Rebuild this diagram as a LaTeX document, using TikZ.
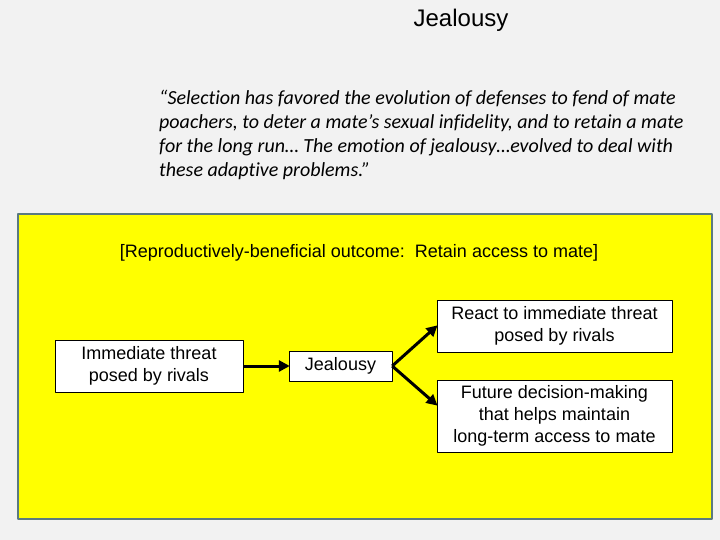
\documentclass[tikz,border=0pt]{standalone}
\usepackage{fontspec}
\setmainfont{Liberation Sans}
\newfontfamily\quotefont[Ligatures=NoCommon]{Carlito}
\usetikzlibrary{arrows.meta}
\definecolor{slide}{HTML}{F2F2F2}
\definecolor{frame}{HTML}{5B7A80}
\definecolor{note}{HTML}{FFFF00}
\begin{document}
\begin{tikzpicture}[x=1pt, y=-1pt, >={Triangle[length=11pt,width=11pt]}, line join=round,
    box/.style={draw, fill=white, align=center, inner sep=0pt, font=\fontsize{18}{22}\selectfont},
    link/.style={->, line width=3pt, shorten >=-1pt}]
    \fill[slide] (0,0) rectangle (720,540);
    \draw[frame, fill=note, line width=2pt] (18,214) rectangle (712,519);
    \node[font=\fontsize{24}{28}\selectfont] (title) at (461,20) {Jealousy};
    \node[anchor=north west, align=left, inner sep=0pt, font=\quotefont\itshape\fontsize{20}{24}\selectfont] (quote) at (159,90)
        {“Selection has favored the evolution of defenses to fend of mate\\
        poachers, to deter a mate’s sexual infidelity, and to retain a mate\\
        for the long run… The emotion of jealousy…evolved to deal with\\
        these adaptive problems.”};
    \node[font=\fontsize{18}{22}\selectfont] (outcome) at (359,253) {[Reproductively-beneficial outcome:\ \ Retain access to mate]};
    \node[box, minimum width=188pt, minimum height=52pt] (threat) at (149,366) {Immediate threat\\posed by rivals};
    \node[box, minimum width=103pt, minimum height=30pt] (jeal) at (340.5,366) {Jealousy};
    \node[box, minimum width=235pt, minimum height=52pt] (react) at (554.5,326) {React to immediate threat\\posed by rivals};
    \node[box, minimum width=235pt, minimum height=72pt] (future) at (554.5,416) {Future decision-making\\that helps maintain\\long-term access to mate};
    \draw[link] (threat) -- (jeal);
    \draw[link] (jeal.east) -- (react.west);
    \draw[link] (jeal.east) -- ([yshift=11pt]future.west);
\end{tikzpicture}
\end{document}
